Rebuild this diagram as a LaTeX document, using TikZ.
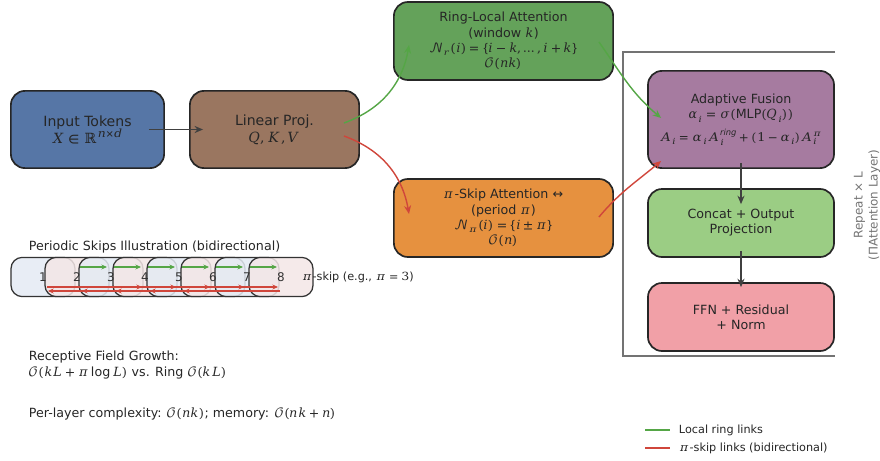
\documentclass[tikz,border=0pt]{standalone}
\usepackage{amsmath}
\usepackage{fontspec}
\usepackage{unicode-math}
\setmainfont{DejaVu Sans}
\setmathfont{DejaVu Math TeX Gyre}
\usetikzlibrary{arrows.meta,calc}
\definecolor{tokblue}{HTML}{5676A6}
\definecolor{projbrown}{HTML}{9A7660}
\definecolor{ringgreen}{HTML}{64A25A}
\definecolor{skiporange}{HTML}{E6913F}
\definecolor{fusepurple}{HTML}{A67BA0}
\definecolor{catgreen}{HTML}{9BCD84}
\definecolor{ffnpink}{HTML}{F1A0A7}
\definecolor{linkgreen}{HTML}{55A646}
\definecolor{linkred}{HTML}{D0463B}
\definecolor{cellblue}{HTML}{E4EAF3}
\definecolor{cellpink}{HTML}{F3E6E6}
\tikzset{>={Stealth[length=6pt,width=5pt]}}
\tikzset{
  block/.style = {draw=black!85, line width=1.2pt, rounded corners=10pt,
    align=center, inner sep=0pt, text=black!85,
    font=\fontsize{9}{10.8}\selectfont},
  bigblock/.style = {block, font=\fontsize{10}{12}\selectfont},
  cell/.style = {draw=black!80, line width=0.9pt, rounded corners=8pt,
    minimum width=1.6cm, minimum height=0.98cm, fill opacity=0.85},
  note/.style = {anchor=west, text=black!85, font=\fontsize{9}{11}\selectfont},
  small/.style = {anchor=west, text=black!85, font=\fontsize{8}{10}\selectfont},
  flow/.style = {->, black!75, line width=1.2pt},
  ringln/.style = {->, linkgreen, line width=1pt},
  skipln/.style = {->, linkred, line width=1pt},
  tick/.style = {-{Stealth[length=4pt,width=3.5pt]}, line width=0.8pt}
}

\begin{document}
\begin{tikzpicture}[x=0.025cm,y=0.025cm]
  \useasboundingbox (0,0) rectangle (880,-460);
  % main blocks
  \node[bigblock,fill=tokblue,minimum width=3.83cm,minimum height=1.93cm] (tok) at (87.5,-129.5)
    {Input Tokens\\$X\in\mathbb{R}^{n\times d}$};
  \node[bigblock,fill=projbrown,minimum width=4.23cm,minimum height=1.93cm] (lin) at (274.5,-129.5)
    {Linear Proj.\\$Q,K,V$};
  \node[block,fill=ringgreen,minimum width=5.48cm,minimum height=1.95cm] (ring) at (503.5,-41)
    {Ring-Local Attention\\(window $k$)\\$\mathcal{N}_r(i)=\{i-k,\ldots,i+k\}$\\$\mathcal{O}(nk)$};
  \node[block,fill=skiporange,minimum width=5.48cm,minimum height=1.95cm] (pis) at (503.5,-218)
    {$\pi$-Skip Attention ↔\\(period $\pi$)\\$\mathcal{N}_\pi(i)=\{i\pm\pi\}$\\$\mathcal{O}(n)$};
  \node[block,fill=fusepurple,minimum width=4.65cm,minimum height=2.43cm] (fus) at (741,-119.5)
    {Adaptive Fusion\\$\alpha_i=\sigma(\text{MLP}(Q_i))$\\[4pt]
     {\fontsize{8.5}{10}\selectfont$A_i=\alpha_iA_i^{\mathit{ring}}+(1-\alpha_i)A_i^{\pi}$}};
  \node[block,fill=catgreen,minimum width=4.65cm,minimum height=1.7cm] (cat) at (741,-223)
    {Concat + Output\\Projection};
  \node[block,fill=ffnpink,minimum width=4.65cm,minimum height=1.7cm] (ffn) at (741,-317)
    {FFN + Residual\\+ Norm};
  %
  \draw[black!55,line width=0.9pt] (835,-52) -| (623,-356) -- (835,-356);
  \node[rotate=90,align=center,text=black!55,font=\fontsize{8.5}{10.5}\selectfont] (rep) at (867,-205)
    {Repeat × L\\(ΠAttention Layer)};
  %
  \draw[flow] ($(tok.east)+(-16,0)$) -- ($(lin.west)+(14,0)$);
  \draw[ringln] ($(lin.east)+(-16,6.5)$) to[out=20,in=-100] ($(ring.west)+(16,-4)$);
  \draw[skipln] ($(lin.east)+(-16,-6.5)$) to[out=-20,in=100] ($(pis.west)+(16,4)$);
  \draw[ringln] ($(ring.east)+(-15,-1)$) to[out=-55,in=140] ($(fus.west)+(14,1.5)$);
  \draw[skipln] ($(pis.east)+(-15,1)$) to[out=50,in=-140] ($(fus.south west)+(14,8)$);
  \draw[flow] ($(fus.south)+(0,6)$) -- ($(cat.north)+(0,-16)$);
  \draw[flow] ($(cat.south)+(0,7)$) -- ($(ffn.north)+(0,-5)$);
  %
  \node[note] (ttl) at (24,-247) {Periodic Skips Illustration (bidirectional)};
  \foreach \i in {1,...,8} {
    \ifodd\i \def\cellcol{cellblue}\else \def\cellcol{cellpink}\fi
    \node[cell,fill=\cellcol] (s\i) at ({43+34*(\i-1)},-277) {};
  }
  \foreach \i in {1,...,8}
    \node[text=black!80,font=\fontsize{8.5}{10}\selectfont] (n\i) at (s\i) {\i};
  \foreach \i [evaluate=\i as \j using int(\i+1)] in {2,...,7}
    \draw[tick,linkgreen] ($(s\i)+(3,10)$) -- ($(s\j)+(-4,10)$);
  \foreach \i [evaluate=\i as \j using int(\i+3)] in {1,...,5} {
    \draw[tick,linkred] ($(s\i)+(4,-10)$) -- ($(s\j)+(-3,-10)$);
    \draw[tick,linkred] ($(s\j)+(-1,-14)$) -- ($(s\i)+(5,-14)$);
  }
  \node[small] (pik) at (297,-277) {$\pi$-skip (e.g., $\pi=3$)};
  %
  \node[note,align=left] (rf) at (24,-365)
    {Receptive Field Growth:\\$\mathcal{O}(kL+\pi\log L)$ vs. Ring $\mathcal{O}(kL)$};
  \node[note] (cx) at (24,-414) {Per-layer complexity: $\mathcal{O}(nk)$; memory: $\mathcal{O}(nk+n)$};
  %
  \node[small] (lgg) at (674,-430) {Local ring links};
  \node[small] (lgr) at (674,-448) {$\pi$-skip links (bidirectional)};
  \draw[linkgreen,line width=1.2pt] ($(lgg.west)+(-29,0)$) -- ++(25,0);
  \draw[linkred,line width=1.2pt] ($(lgr.west)+(-29,0)$) -- ++(25,0);
\end{tikzpicture}
\end{document}
